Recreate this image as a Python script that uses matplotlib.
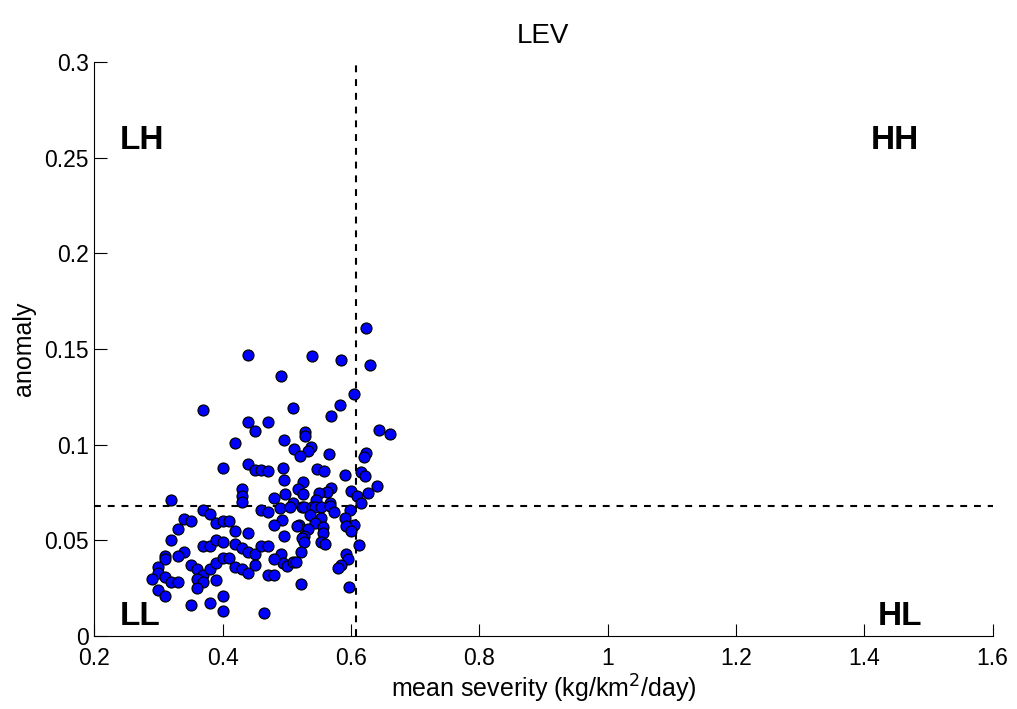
import matplotlib
matplotlib.use("Agg")
import matplotlib.pyplot as plt

plt.rcParams['font.family'] = ['Liberation Sans', 'DejaVu Sans']

# mean severity (x) and anomaly (y) for each grid point
severity = [
    0.624, 0.539, 0.584, 0.629, 0.491, 0.605, 0.509, 0.583, 0.569, 0.644,
    0.661, 0.529, 0.529, 0.495, 0.511, 0.538, 0.533, 0.520, 0.566, 0.623,
    0.621, 0.547, 0.558, 0.616, 0.622, 0.494, 0.496, 0.590, 0.525, 0.641,
    0.518, 0.569, 0.562, 0.551, 0.600, 0.626, 0.498, 0.526, 0.609, 0.546,
    0.509, 0.568, 0.616, 0.489, 0.505, 0.523, 0.527, 0.539, 0.544, 0.554,
    0.567, 0.574, 0.599, 0.536, 0.554, 0.492, 0.590, 0.519, 0.516, 0.544,
    0.605, 0.592, 0.533, 0.557, 0.600, 0.557, 0.495, 0.527, 0.523, 0.527,
    0.554, 0.560, 0.613, 0.522, 0.593, 0.595, 0.491, 0.494, 0.500, 0.509,
    0.514, 0.584, 0.580, 0.522, 0.597,
    # left part of the cloud
    0.440, 0.370, 0.440, 0.420, 0.450, 0.470, 0.400, 0.440, 0.430, 0.450,
    0.460, 0.470, 0.430, 0.430, 0.480, 0.320, 0.370, 0.380, 0.390, 0.400,
    0.410, 0.340, 0.350, 0.330, 0.320, 0.440, 0.460, 0.470, 0.370, 0.380,
    0.390, 0.400, 0.420, 0.430, 0.440, 0.450, 0.460, 0.470, 0.480, 0.340,
    0.330, 0.310, 0.310, 0.300, 0.300, 0.290, 0.310, 0.320, 0.330, 0.300,
    0.310, 0.350, 0.360, 0.370, 0.360, 0.370, 0.360, 0.380, 0.390, 0.400,
    0.410, 0.390, 0.350, 0.380, 0.400, 0.400, 0.420, 0.430, 0.440, 0.450,
    0.470, 0.480, 0.465, 0.480, 0.420,
]
anomaly = [
    0.1610, 0.1465, 0.1443, 0.1416, 0.1359, 0.1263, 0.1190, 0.1207, 0.1151, 0.1075,
    0.1056, 0.1065, 0.1047, 0.1024, 0.0977, 0.0989, 0.0967, 0.0939, 0.0951, 0.0955,
    0.0937, 0.0873, 0.0864, 0.0856, 0.0836, 0.0877, 0.0815, 0.0841, 0.0805, 0.0786,
    0.0767, 0.0772, 0.0754, 0.0747, 0.0758, 0.0749, 0.0741, 0.0741, 0.0732, 0.0712,
    0.0697, 0.0697, 0.0697, 0.0667, 0.0673, 0.0676, 0.0676, 0.0676, 0.0673, 0.0674,
    0.0681, 0.0647, 0.0657, 0.0632, 0.0615, 0.0606, 0.0615, 0.0580, 0.0575, 0.0592,
    0.0580, 0.0575, 0.0558, 0.0571, 0.0550, 0.0537, 0.0524, 0.0524, 0.0511, 0.0490,
    0.0493, 0.0481, 0.0476, 0.0441, 0.0427, 0.0402, 0.0427, 0.0380, 0.0367, 0.0385,
    0.0385, 0.0371, 0.0354, 0.0270, 0.0256,
    0.147, 0.118, 0.112, 0.101, 0.107, 0.112, 0.088, 0.090, 0.077, 0.087,
    0.087, 0.086, 0.073, 0.070, 0.072, 0.071, 0.066, 0.064, 0.059, 0.060,
    0.060, 0.061, 0.060, 0.056, 0.050, 0.054, 0.066, 0.065, 0.047, 0.047,
    0.050, 0.049, 0.048, 0.046, 0.044, 0.043, 0.047, 0.047, 0.040, 0.044,
    0.042, 0.042, 0.040, 0.036, 0.033, 0.030, 0.031, 0.028, 0.028, 0.024,
    0.021, 0.037, 0.035, 0.032, 0.030, 0.028, 0.025, 0.035, 0.038, 0.041,
    0.041, 0.029, 0.016, 0.017, 0.021, 0.013, 0.036, 0.035, 0.033, 0.037,
    0.032, 0.032, 0.012, 0.058, 0.055,
]

sev_thresh = 0.608
anom_thresh = 0.068

xticks = [0.2, 0.4, 0.6, 0.8, 1, 1.2, 1.4, 1.6]
xticklabels = ['0.2', '0.4', '0.6', '0.8', '1', '1.2', '1.4', '1.6']
yticks = [0, 0.05, 0.1, 0.15, 0.2, 0.25, 0.3]
yticklabels = ['0', '0.05', '0.1', '0.15', '0.2', '0.25', '0.3']

fig = plt.figure(figsize=(10.17, 7.09), dpi=100)
ax = fig.add_axes([0.0927, 0.103, 0.8833, 0.8096])

ax.scatter(severity, anomaly, s=62, c='#0000ff', edgecolors='black', linewidths=0.9, zorder=3)

ax.plot([sev_thresh, sev_thresh], [0, 0.3], color='black', lw=1.5, dashes=(3.3, 3.3), zorder=2)
ax.plot([0.2, 1.6], [anom_thresh, anom_thresh], color='black', lw=1.5, dashes=(3.3, 3.3), zorder=2)

# quadrant labels
qfont = dict(fontsize=24, fontweight='bold', va='center')
ax.text(0.24, 0.259, 'LH', ha='left', **qfont)
ax.text(1.448, 0.259, 'HH', ha='center', **qfont)
ax.text(0.24, 0.010, 'LL', ha='left', **qfont)
ax.text(1.455, 0.010, 'HL', ha='center', **qfont)

ax.set_xlim(0.2, 1.6)
ax.set_ylim(0, 0.3)
ax.set_xticks(xticks)
ax.set_xticklabels(xticklabels)
ax.set_yticks(yticks)
ax.set_yticklabels(yticklabels)
ax.tick_params(direction='in', length=9, width=0.8, labelsize=16.5)
ax.tick_params(axis='x', pad=8)
ax.tick_params(axis='y', pad=4)
ax.spines['top'].set_visible(False)
ax.spines['right'].set_visible(False)

ax.set_title('LEV', fontsize=20, pad=14)
ax.set_xlabel('mean severity (kg/km$^2$/day)', fontsize=18, labelpad=2)
ax.set_ylabel('anomaly', fontsize=18, labelpad=6)

fig.savefig('out.png', dpi=100)
